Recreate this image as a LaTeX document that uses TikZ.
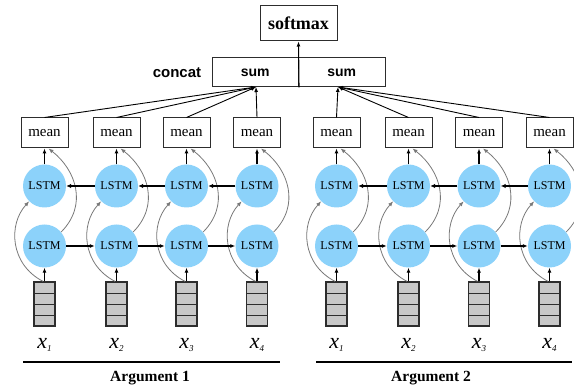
\documentclass[tikz,border=0pt]{standalone}
\usepackage{fontspec}
\setmainfont{Liberation Serif}
\newfontfamily\hv{Liberation Sans}
\usetikzlibrary{calc,arrows.meta}
\definecolor{lstmblue}{RGB}{140,210,250}
\definecolor{boxgray}{RGB}{200,200,200}
\definecolor{edgegray}{RGB}{45,45,45}
\definecolor{skipgray}{RGB}{120,120,120}
\newcommand{\xlab}[1]{{\fontsize{22}{22}\selectfont\itshape x}\raisebox{-3pt}{\fontsize{9}{9}\selectfont\itshape #1}}
\begin{document}
\begin{tikzpicture}[x=1pt,y=1pt,
  meanbox/.style={draw=edgegray, line width=1pt, minimum width=47pt, minimum height=30pt, inner sep=0pt, font=\fontsize{15}{15}\selectfont},
  lstm/.style={circle, fill=lstmblue, minimum size=43pt, inner sep=0pt, font=\fontsize{12}{12}\selectfont},
  inbox/.style={draw=edgegray, fill=boxgray, line width=1.3pt, minimum width=21pt, minimum height=44pt, inner sep=0pt},
  cellline/.style={draw=edgegray, line width=1.3pt},
  arr/.style={-{Latex[length=5pt,width=4pt]}, line width=1.1pt},
  backarr/.style={-{Latex[length=5pt,width=4.5pt]}, line width=1.5pt},
  sumarr/.style={-{Latex[length=5pt,width=4pt]}, line width=0.9pt},
  skip/.style={-{Latex[length=5pt,width=4pt]}, draw=skipgray, line width=0.8pt},
  topbox/.style={draw=edgegray, line width=1pt, inner sep=0pt},
  rule/.style={line width=1.5pt},
]
\useasboundingbox (0,0) rectangle (574,385);
\clip (0,0) rectangle (574,385);

% top part
\node[topbox, minimum width=77pt, minimum height=35pt, font=\bfseries\fontsize{18}{18}\selectfont] (sm) at (298.5,361.5) {softmax};
\node[topbox, minimum width=86.5pt, minimum height=29pt, font=\hv\bfseries\fontsize{14}{14}\selectfont] (sum1) at (255.25,312.5) {sum};
\node[topbox, minimum width=86.5pt, minimum height=29pt, font=\hv\bfseries\fontsize{14}{14}\selectfont] (sum2) at (341.75,312.5) {sum};
\node[font=\hv\bfseries\fontsize{15}{15}\selectfont] (cc) at (177,312) {concat};
\draw[arr] (sum1.south east) -- (sm.south);
\coordinate (s1) at (256,298);
\coordinate (s2) at (338,298);

% columns
\foreach \i/\x/\s in {1/44.5/1,2/116.5/2,3/186.5/3,4/257/4,5/336.5/1,6/408.5/2,7/479/3,8/549.5/4} {
  \node[meanbox] (m\i) at (\x,252) {mean};
  \node[lstm] (u\i) at (\x,199) {LSTM};
  \node[lstm] (l\i) at (\x,139) {LSTM};
  \node[inbox] (in\i) at (\x,81) {};
  \foreach \k in {1,2,3} {
    \draw[cellline] ($(in\i.south west)+(0,11*\k)$) -- ($(in\i.south east)+(0,11*\k)$);
  }
  \node (x\i) at (\x,40) {\xlab{\s}};
  \draw[arr] (u\i.north) -- (m\i.south);
  \draw[arr] (in\i.north) -- (l\i.south);
  \draw[skip] (l\i.40) .. controls ($(l\i)+(43.5,41)$) and ($(l\i)+(31.5,76)$) .. ($(m\i.south)+(4,0)$);
  \draw[skip] ($(in\i.north)+(-1.5,0)$) .. controls ($(in\i.north)+(-34.5,17)$) and ($(in\i.north)+(-36.5,57)$) .. (u\i.225);
}

% recurrent connections
\foreach \a/\b in {1/2,2/3,3/4,5/6,6/7,7/8} {
  \draw[backarr] (u\b.west) -- (u\a.east);
  \draw[arr] (l\a.east) -- (l\b.west);
}

% mean to sum
\foreach \i in {1,...,4} { \draw[sumarr] (m\i.north) -- (s1); }
\foreach \i in {5,...,8} { \draw[sumarr] (m\i.north) -- (s2); }

% bottom rules and labels
\coordinate (r1a) at (23,23);
\coordinate (r1b) at (280,23);
\coordinate (r2a) at (316,23);
\coordinate (r2b) at (572,23);
\draw[rule] (r1a) -- (r1b);
\draw[rule] (r2a) -- (r2b);
\node[font=\bfseries\fontsize{15.5}{15.5}\selectfont] (a1) at (150,7) {Argument 1};
\node[font=\bfseries\fontsize{15.5}{15.5}\selectfont] (a2) at (431,7) {Argument 2};
\end{tikzpicture}
\end{document}
